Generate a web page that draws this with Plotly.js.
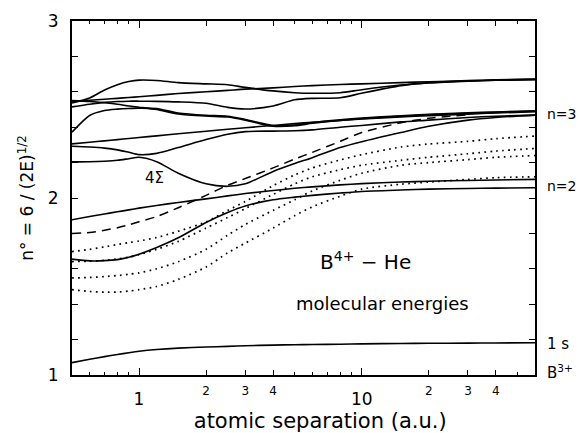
<!DOCTYPE html>
<html><head><meta charset="utf-8">
<script src="https://cdn.plot.ly/plotly-3.0.1.min.js"></script>
<style>html,body{margin:0;padding:0;background:#fff}#chart{width:578px;height:433px}</style>
</head><body><div id="chart"></div>
<script>
// atomic separation grid (a.u.)
const separation = [0.5,0.6,0.7,0.8,0.9,1,1.2,1.5,2,2.5,3,4,5,6,8,10,15,20,30,40,60];

// solid curves
const curve1s   = [1.070,1.089,1.104,1.116,1.126,1.134,1.144,1.152,1.158,1.162,1.165,1.169,1.171,1.172,1.174,1.176,1.178,1.179,1.180,1.181,1.182];
const n2Upper   = [1.877,1.895,1.910,1.922,1.933,1.943,1.958,1.975,1.995,2.012,2.025,2.042,2.055,2.063,2.074,2.081,2.090,2.095,2.099,2.102,2.105];
const n2Lower   = [1.655,1.645,1.646,1.652,1.665,1.682,1.720,1.775,1.862,1.918,1.955,1.990,2.005,2.015,2.028,2.037,2.045,2.050,2.054,2.056,2.058];
const sigma4    = [2.204,2.205,2.208,2.213,2.222,2.230,2.205,2.140,2.080,2.066,2.080,2.150,2.195,2.228,2.285,2.318,2.370,2.405,2.440,2.455,2.468];
const curveF    = [2.292,2.288,2.282,2.272,2.258,2.245,2.252,2.285,2.330,2.360,2.375,2.378,2.380,2.385,2.400,2.410,2.430,2.440,2.455,2.462,2.468];
const n3Line    = [2.306,2.315,2.323,2.330,2.336,2.342,2.351,2.363,2.377,2.388,2.397,2.410,2.420,2.428,2.438,2.446,2.458,2.465,2.474,2.480,2.488];
const curveD    = [2.550,2.545,2.538,2.530,2.520,2.513,2.500,2.475,2.463,2.458,2.440,2.405,2.408,2.422,2.438,2.448,2.462,2.470,2.478,2.484,2.490];
const curveE    = [2.372,2.466,2.494,2.502,2.506,2.508,2.505,2.480,2.467,2.462,2.444,2.410,2.412,2.426,2.442,2.452,2.465,2.473,2.481,2.486,2.492];
const curveC    = [2.515,2.530,2.540,2.545,2.547,2.547,2.546,2.543,2.535,2.512,2.503,2.520,2.555,2.563,2.566,2.592,2.635,2.652,2.662,2.666,2.670];
const curveB    = [2.545,2.552,2.558,2.563,2.568,2.572,2.580,2.590,2.600,2.608,2.615,2.622,2.630,2.635,2.641,2.645,2.652,2.657,2.663,2.668,2.672];
const curveA    = [2.537,2.565,2.610,2.640,2.658,2.666,2.664,2.652,2.645,2.640,2.625,2.605,2.595,2.592,2.595,2.612,2.638,2.650,2.660,2.665,2.668];

// dashed curve (ends where it joins the n=3 bundle)
const dashedCurve = [1.800,1.805,1.818,1.832,1.848,1.866,1.895,1.945,2.015,2.072,2.110,2.170,2.220,2.258,2.320,2.370,2.425,2.450,2.470];

// dotted curves
const dotted1 = [1.697,1.710,1.724,1.737,1.748,1.757,1.777,1.812,1.865,1.930,1.980,2.070,2.130,2.170,2.215,2.245,2.288,2.305,2.320,2.335,2.350];
const dotted2 = [1.641,1.643,1.648,1.656,1.666,1.680,1.710,1.755,1.830,1.890,1.940,2.020,2.080,2.120,2.160,2.185,2.213,2.230,2.250,2.265,2.280];
const dotted3 = [1.548,1.551,1.556,1.562,1.569,1.577,1.600,1.640,1.710,1.790,1.850,1.930,1.990,2.040,2.100,2.140,2.185,2.200,2.217,2.230,2.240];
const dotted4 = [1.482,1.472,1.468,1.469,1.474,1.482,1.500,1.540,1.610,1.690,1.745,1.830,1.900,1.950,2.010,2.050,2.078,2.090,2.105,2.115,2.120];

// axis tick labels
const majorXTicks = [1, 10];
const majorXText = ['1', '10'];
const smallXTicks = [2, 3, 4, 20, 30, 40];
const smallXText = ['2', '3', '4', '2', '3', '4'];
const minorXTicks = [0.6, 0.7, 0.8, 0.9, 5, 6, 7, 8, 9, 50];
const yTicks = [1, 2, 3];
const yTickText = ['1', '2', '3'];
const yMinorTicks = [1.2, 1.4, 1.6, 1.8, 2.2, 2.4, 2.6, 2.8];

const FONT = 'DejaVu Sans, sans-serif';
const solidLine = {color: 'black', width: 1.6, shape: 'spline', smoothing: 0.7};
const dotLine = {color: 'black', width: 1.7, shape: 'spline', smoothing: 0.7, dash: '1.7px,4.3px'};
const dashLine = {color: 'black', width: 1.5, shape: 'spline', smoothing: 0.7, dash: '9px,6px'};
const mk = (y, line) => ({x: separation.slice(0, y.length), y: y, mode: 'lines', line: line,
  showlegend: false, hoverinfo: 'skip', xaxis: 'x', yaxis: 'y'});

const traces = [
  mk(curve1s, solidLine), mk(n2Upper, solidLine), mk(n2Lower, solidLine),
  mk(sigma4, solidLine), mk(curveF, solidLine), mk(n3Line, solidLine),
  mk(curveD, solidLine), mk(curveE, solidLine), mk(curveC, solidLine),
  mk(curveB, solidLine), mk(curveA, solidLine),
  mk(dashedCurve, dashLine),
  mk(dotted1, dotLine), mk(dotted2, dotLine), mk(dotted3, dotLine), mk(dotted4, dotLine)
];
// invisible trace keeps the secondary (small-label) log axis alive
traces.push({x: [0.5, 60], y: [1, 1], xaxis: 'x2', yaxis: 'y', mode: 'lines',
  line: {width: 0, color: 'rgba(0,0,0,0)'}, showlegend: false, hoverinfo: 'skip'});

const xr = [Math.log10(0.5), Math.log10(60)];
const ann = (x, y, text, size, xanchor) => ({xref: 'paper', yref: 'paper', x: x, y: y, text: text,
  showarrow: false, xanchor: xanchor || 'center', yanchor: 'middle', font: {size: size, family: FONT, color: 'black'}});

const layout = {
  width: 578, height: 433,
  margin: {l: 72, r: 43, t: 21, b: 58},
  paper_bgcolor: 'white', plot_bgcolor: 'white',
  font: {family: FONT, color: 'black', size: 16},
  xaxis: {
    type: 'log', range: xr, showgrid: false, zeroline: false,
    showline: true, linecolor: 'black', linewidth: 2, mirror: 'allticks',
    tickmode: 'array', tickvals: majorXTicks, ticktext: majorXText,
    ticks: 'inside', ticklen: 7, tickwidth: 1, tickcolor: 'black',
    tickfont: {size: 17, family: FONT}, ticklabelstandoff: 8,
    minor: {tickmode: 'array', tickvals: minorXTicks, ticks: 'inside', ticklen: 3, tickwidth: 1, tickcolor: 'black', showgrid: false},
    title: {text: '&nbsp;&nbsp;&nbsp;&nbsp;&nbsp;atomic separation (a.u.)', font: {size: 21, family: FONT}, standoff: 4}
  },
  xaxis2: {
    type: 'log', range: xr, overlaying: 'x', anchor: 'y', side: 'bottom',
    showgrid: false, zeroline: false, showline: false, mirror: 'allticks',
    tickmode: 'array', tickvals: smallXTicks, ticktext: smallXText,
    ticks: 'inside', ticklen: 5, tickwidth: 1, tickcolor: 'black',
    tickfont: {size: 12, family: FONT}, ticklabelstandoff: 7
  },
  yaxis: {
    range: [1, 3], showgrid: false, zeroline: false,
    showline: true, linecolor: 'black', linewidth: 2, mirror: 'allticks',
    tickmode: 'array', tickvals: yTicks, ticktext: yTickText,
    ticks: 'inside', ticklen: 6, tickwidth: 1, tickcolor: 'black',
    tickfont: {size: 17, family: FONT}, ticklabelstandoff: 8,
    minor: {tickmode: 'array', tickvals: yMinorTicks, ticks: 'inside', ticklen: 4, tickwidth: 1, tickcolor: 'black', showgrid: false},
    title: {text: 'n° = 6 / (2E)<sup>1/2</sup>', font: {size: 17, family: FONT}, standoff: 10}
  },
  annotations: [
    ann(0.179, 0.556, '4Σ', 15),
    ann(0.634, 0.322, 'B<sup>4+</sup> − He', 20),
    ann(0.670, 0.203, 'molecular energies', 18),
    ann(1.022, 0.737, 'n=3', 14, 'left'),
    ann(1.022, 0.534, 'n=2', 14, 'left'),
    ann(1.022, 0.087, '1 s', 15, 'left'),
    ann(1.022, 0.009, 'B<sup>3+</sup>', 15, 'left')
  ]
};

Plotly.newPlot('chart', traces, layout, {displayModeBar: false, staticPlot: true});
</script>
</body></html>
